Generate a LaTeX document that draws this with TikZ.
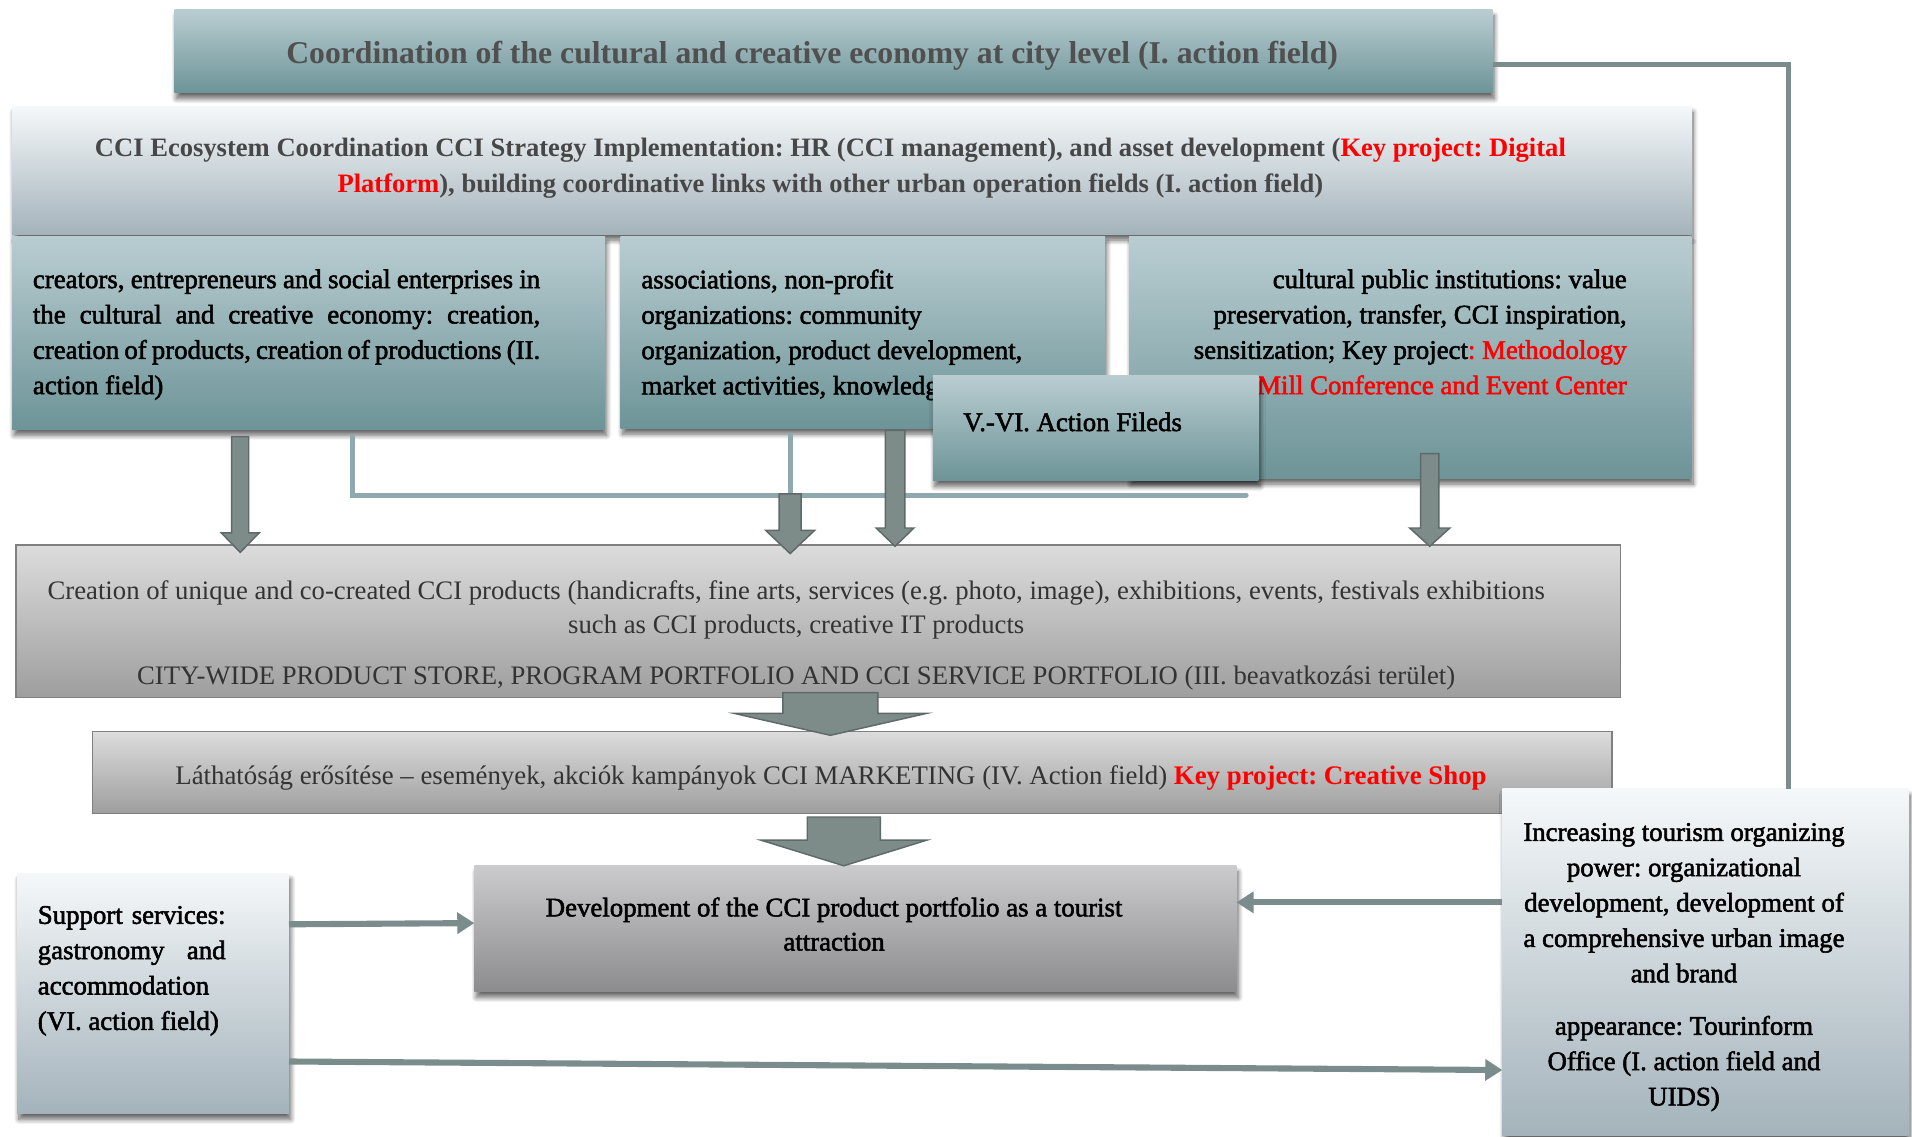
\documentclass[tikz,border=0pt]{standalone}
\usepackage{fontspec}
\setmainfont{Liberation Serif}
\newfontfamily\heavy[FakeBold=2]{Liberation Serif}
\usetikzlibrary{arrows.meta,shadows.blur,calc}
\hyphenpenalty=10000
\exhyphenpenalty=10000
\frenchspacing

\definecolor{tealtop}{HTML}{B9CDD1}
\definecolor{tealbot}{HTML}{6D9498}
\definecolor{frosttop}{HTML}{F5F8FA}
\definecolor{frostbot}{HTML}{A4B3BB}
\definecolor{greytop}{HTML}{DCDCDC}
\definecolor{greybot}{HTML}{9E9E9F}
\definecolor{devtop}{HTML}{CBCBCD}
\definecolor{devbot}{HTML}{8C8C8E}
\definecolor{boxedge}{HTML}{808080}
\definecolor{titletext}{HTML}{505050}
\definecolor{boxtext}{HTML}{474747}
\definecolor{plaintext}{HTML}{333333}
\definecolor{linkline}{HTML}{7A8C8B}
\definecolor{paleline}{HTML}{8FA9AE}
\definecolor{arrowfill}{HTML}{7D8B89}
\definecolor{arrowedge}{HTML}{5E6A69}
\definecolor{keyred}{HTML}{FF0000}

% vertical block arrow: start, tip, half shaft, half head, head length
\newcommand\blockdown[5]{%
  \filldraw[blockarrow] let \p1=(#1), \p2=(#2) in
    (\x1-#3,\y1) -- (\x1+#3,\y1) -- (\x1+#3,\y2+#5) -- (\x1+#4,\y2+#5)
    -- (\x1,\y2) -- (\x1-#4,\y2+#5) -- (\x1-#3,\y2+#5) -- cycle;}

\begin{document}
\begin{tikzpicture}[x=1pt,y=-1pt,
  panel/.style={rectangle, inner sep=0pt, outer sep=0pt},
  tealpanel/.style={panel, top color=tealtop, bottom color=tealbot},
  frostpanel/.style={panel, top color=frosttop, bottom color=frostbot},
  greypanel/.style={panel, top color=greytop, bottom color=greybot, draw=boxedge, line width=1.2pt},
  devpanel/.style={panel, top color=devtop, bottom color=devbot},
  softshadow/.style={blur shadow={shadow xshift=1.5pt, shadow yshift=-5pt,
      shadow blur radius=4pt, shadow blur steps=10, shadow opacity=60}},
  txt/.style={inner sep=0pt, outer sep=0pt},
  heavytext/.style={txt, font=\heavy\fontsize{22}{29}\selectfont, text=black},
  link/.style={draw=linkline, line width=5pt, -{Triangle[width=17pt,length=14pt]}},
  plainlink/.style={draw=linkline, line width=4pt},
  pale/.style={draw=paleline, line width=4pt, line cap=round},
  blockarrow/.style={fill=arrowfill, draw=arrowedge, line width=1.2pt}]

\useasboundingbox (0,0) rectangle (1568,932);

% ---- coordination level ----
\node[tealpanel, softshadow, minimum width=1081pt, minimum height=68pt] (T) at (683.5,42) {};
\node[txt, font=\bfseries\fontsize{26}{30}\selectfont, text=titletext] (Tt) at (666,46)
  {Coordination of the cultural and creative economy at city level (I. action field)};

\node[frostpanel, softshadow, minimum width=1377pt, minimum height=105pt] (B) at (698.5,139.5) {};
\node[txt, font=\bfseries\fontsize{21.8}{30}\selectfont, text=boxtext, align=center, anchor=north] (Bt) at (681,113)
  {CCI Ecosystem Coordination CCI Strategy Implementation: HR (CCI management), and asset development (\textcolor{keyred}{Key project: Digital}\\
   \textcolor{keyred}{Platform}), building coordinative links with other urban operation fields (I. action field)};

% ---- actors ----
\node[tealpanel, softshadow, minimum width=486pt, minimum height=158pt] (L) at (253,273) {};
\node[heavytext, text width=416pt, align=justify, anchor=north west] (Lt) at (27,221)
  {creators, entrepreneurs and social enterprises in\linebreak
   the cultural and creative economy: creation,\linebreak
   creation of products, creation of productions (II.\linebreak
   action field)};

\node[tealpanel, softshadow, minimum width=397pt, minimum height=157pt] (M) at (707.5,272.5) {};
\node[heavytext, align=left, anchor=north west] (Mt) at (526,221)
  {associations, non-profit\\organizations: community\\organization, product development,\\market activities, knowledge transfer};

\node[tealpanel, softshadow, minimum width=461pt, minimum height=198pt] (R) at (1156.5,293) {};
\node[heavytext, align=right, anchor=north east] (Rt) at (1334,221)
  {cultural public institutions: value\\preservation, transfer, CCI inspiration,\\
   sensitization; Key project\textcolor{keyred}{: Methodology}\\
   \textcolor{keyred}{Center, Mill Conference and Event Center}};

% links gathering the actors
\coordinate (ls) at ($(L.south)+(36,6)$);
\coordinate (ms) at ($(M.south)+(-59.5,6)$);
\coordinate (mj) at ($(M.south)+(-59.5,54)$);
\draw[pale] (ls) |- ($(ls)+(733,48)$) coordinate (pe);
\draw[pale] (ms) -- (mj);

\node[tealpanel, softshadow, minimum width=267pt, minimum height=86pt] (V) at (898.5,351) {};
\node[heavytext, anchor=west] (Vt) at (790,346) {V.-VI. Action Fileds};

% ---- products ----
\node[greypanel, minimum width=1316pt, minimum height=125pt] (C) at (671,509.5) {};
\node[txt, font=\fontsize{21.9}{28}\selectfont, text=plaintext, align=center, anchor=north] (Ct) at (653,476)
  {Creation of unique and co-created CCI products (handicrafts, fine arts, services (e.g. photo, image), exhibitions, events, festivals exhibitions\\
   such as CCI products, creative IT products\\[14pt]
   CITY-WIDE PRODUCT STORE, PROGRAM PORTFOLIO AND CCI SERVICE PORTFOLIO (III. beavatkozási terület)};

\blockdown{$(L.south)+(-56,6)$}{$(C.north)+(-474,6)$}{7pt}{15.5pt}{16pt}
\blockdown{mj}{$(C.north)+(-22.5,7)$}{9pt}{20pt}{19pt}
\blockdown{$(M.south)+(26.5,2)$}{$(C.north)+(63,1)$}{8pt}{15.5pt}{15pt}
\blockdown{$(R.south)+(16,-20)$}{$(C.north)+(501.5,1)$}{7.5pt}{16.5pt}{15pt}

% ---- marketing ----
\node[greypanel, minimum width=1246pt, minimum height=67pt] (D) at (699,633.5) {};
\node[txt, font=\fontsize{22}{28}\selectfont, text=plaintext] (Dt) at (681.5,638)
  {Láthatóság erősítése – események, akciók kampányok CCI MARKETING (IV. Action field) \textcolor{keyred}{\bfseries Key project: Creative Shop}};

\blockdown{$(C.south)+(10,-4)$}{$(D.north)+(-18,3)$}{39pt}{79pt}{18pt}

% ---- tourism ----
\node[devpanel, softshadow, minimum width=625pt, minimum height=103pt] (E) at (701.5,761.5) {};
\node[heavytext, font=\heavy\fontsize{22}{28}\selectfont, align=center, anchor=north] (Et) at (684,736)
  {Development of the CCI product portfolio as a tourist\\attraction};

\blockdown{$(D.south)+(-7,3)$}{$(E.north)+(-10,0)$}{30pt}{68pt}{21pt}

\node[frostpanel, softshadow, minimum width=223pt, minimum height=197pt] (S) at (125.5,814.5) {};
\node[heavytext, text width=154pt, align=justify, anchor=north west] (St) at (31,743)
  {Support services:\linebreak gastronomy and\linebreak accommodation\\(VI. action field)};

\node[frostpanel, softshadow, minimum width=333pt, minimum height=284pt] (U) at (1398.5,789) {};
\node[heavytext, align=center, anchor=north] (Ut) at (1381,675)
  {Increasing tourism organizing\\power: organizational\\development, development of\\a comprehensive urban image\\and brand\\[14pt]
   appearance: Tourinform\\Office (I. action field and\\UIDS)};

% ---- connectors between the tourism boxes ----
\draw[link] ($(S.east)+(0,-56.5)$) -- ($(E.west)+(0,-4.5)$);
\draw[link] ($(U.west)+(0,-49)$) -- ($(E.east)+(0,-21.5)$);
\draw[link] ($(S.east)+(0,56)$) -- ($(U.west)+(0,88.5)$);
\draw[plainlink] ($(T.east)+(0,11)$) -| ($(U.north)+(68.5,0)$);

\end{tikzpicture}
\end{document}
